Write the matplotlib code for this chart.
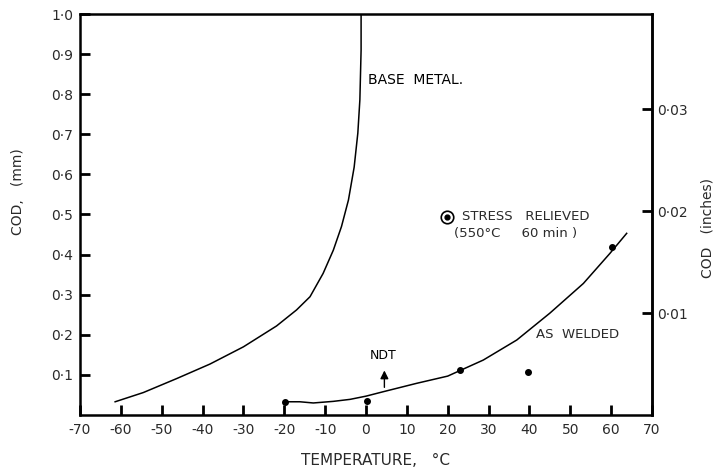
import matplotlib.pyplot as plt

# base metal curve (temp degC, COD mm)
base_t = [-61.4, -54.5, -46.3, -38.2, -30.0, -21.9, -17.0, -13.7, -10.5, -8.0, -6.0,
          -4.3, -2.9, -2.0, -1.5, -1.2, -1.2]
base_cod = [0.033, 0.056, 0.091, 0.127, 0.170, 0.222, 0.262, 0.295, 0.353, 0.411, 0.470,
            0.536, 0.618, 0.703, 0.786, 0.91, 1.0]

# as welded fitted curve
weld_t = [-20, -16.2, -12.9, -8, -3.9, 0, 4.2, 12.4, 20, 28.7, 36.9, 45, 53.2, 59.7, 63.8]
weld_cod = [0.033, 0.033, 0.030, 0.034, 0.039, 0.047, 0.058, 0.079, 0.097, 0.137, 0.187,
            0.254, 0.328, 0.403, 0.453]

# as welded test points
pts_t = [-19.8, 0.2, 23.0, 39.6, 60.2]
pts_cod = [0.033, 0.035, 0.112, 0.107, 0.418]

# stress relieved point
sr_t = [19.8]
sr_cod = [0.494]

ndt_t = 4.5

xticks = list(range(-70, 71, 10))
yticks = [0.1, 0.2, 0.3, 0.4, 0.5, 0.6, 0.7, 0.8, 0.9, 1.0]
ylabels = ['0·1', '0·2', '0·3', '0·4', '0·5', '0·6', '0·7', '0·8', '0·9', '1·0']
inch_ticks = [0.01, 0.02, 0.03]
inch_labels = ['0·01', '0·02', '0·03']

txt = '#2a2a2a'
plt.rcParams['font.family'] = ['DejaVu Sans']

fig = plt.figure(figsize=(7.18, 4.69), dpi=100)
ax = fig.add_axes([80 / 718, 54 / 469, 572 / 718, 401 / 469])

ax.plot(base_t, base_cod, color='black', lw=1.1)
ax.plot(weld_t, weld_cod, color='black', lw=1.1)
ax.plot(pts_t, pts_cod, 'o', color='black', ms=4)
ax.plot(sr_t, sr_cod, 'o', mfc='white', mec='black', ms=9, mew=1.2)
ax.plot(sr_t, sr_cod, 'o', color='black', ms=3.5)

ax.annotate('', xy=(ndt_t, 0.118), xytext=(ndt_t, 0.062),
            arrowprops=dict(arrowstyle='-|>', color='black', lw=1.0, mutation_scale=12))
ax.text(ndt_t - 0.3, 0.132, 'NDT', ha='center', va='bottom', fontsize=9, color='black')
ax.text(0.5, 0.835, 'BASE  METAL.', ha='left', va='center', fontsize=10, color='black')
ax.text(23.5, 0.494, 'STRESS   RELIEVED', ha='left', va='center', fontsize=9.5, color=txt)
ax.text(21.5, 0.453, '(550°C     60 min )', ha='left', va='center', fontsize=9.5, color=txt)
ax.text(41.7, 0.2, 'AS  WELDED', ha='left', va='center', fontsize=9.5, color=txt)

ax.set_xlim(-70, 70)
ax.set_ylim(0, 1.0)
ax.set_xticks(xticks)
ax.set_xticklabels([str(v) for v in xticks])
ax.set_yticks(yticks)
ax.set_yticklabels(ylabels)
ax.tick_params(direction='in', length=7, width=2, labelsize=10, labelcolor=txt, pad=6)
ax.tick_params(axis='y', pad=5)
for s in ax.spines.values():
    s.set_linewidth(1.8)

ax.set_xlabel('TEMPERATURE,   °C', fontsize=11, color=txt)
ax.xaxis.set_label_coords(0.517, -0.095)
ax.set_ylabel('COD,   (mm)', fontsize=10, color=txt)
ax.yaxis.set_label_coords(-0.097, 0.556)

sec = ax.secondary_yaxis('right', functions=(lambda v: v / 25.4, lambda v: v * 25.4))
sec.set_yticks(inch_ticks)
sec.set_yticklabels(inch_labels)
sec.tick_params(direction='in', length=7, width=2, labelsize=10, labelcolor=txt, pad=4)
sec.spines['right'].set_linewidth(1.8)
sec.set_ylabel('COD   (inches)', fontsize=10, color=txt, labelpad=9)
sec.yaxis.label.set_y(0.466)

fig.savefig('out.png', dpi=100)
